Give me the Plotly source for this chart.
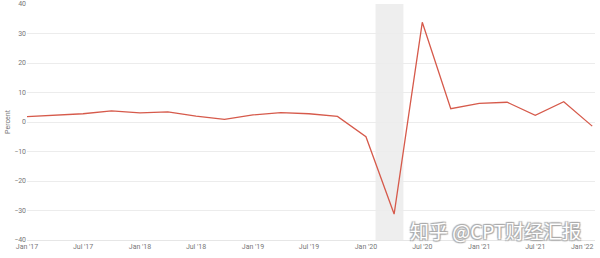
import plotly.graph_objects as go

dates = ["2017-01-01", "2017-04-01", "2017-07-01", "2017-10-01",
         "2018-01-01", "2018-04-01", "2018-07-01", "2018-10-01",
         "2019-01-01", "2019-04-01", "2019-07-01", "2019-10-01",
         "2020-01-01", "2020-04-01", "2020-07-01", "2020-10-01",
         "2021-01-01", "2021-04-01", "2021-07-01", "2021-10-01",
         "2022-01-01"]
gdp_growth = [1.8, 2.2, 2.8, 3.8,
              3.1, 3.4, 2.0, 0.9,
              2.4, 3.2, 2.8, 1.9,
              -5.0, -31.2, 33.8, 4.5,
              6.3, 6.7, 2.3, 6.9,
              -1.4]
recession = ["2020-02-01", "2020-05-01"]
y_ticks = [-40, -30, -20, -10, 0, 10, 20, 30, 40]
x_tick_vals = ["2017-01-01", "2017-07-01", "2018-01-01", "2018-07-01", "2019-01-01",
               "2019-07-01", "2020-01-01", "2020-07-01", "2021-01-01", "2021-07-01",
               "2022-01-01"]
x_tick_text = ["Jan '17", "Jul '17", "Jan '18", "Jul '18", "Jan '19", "Jul '19",
               "Jan '20", "Jul '20", "Jan '21", "Jul '21", "Jan '22"]

# last label is drawn as an annotation so it can be shifted inside the page
tick_text_axis = x_tick_text[:-1] + [""]

fig = go.Figure()
fig.add_vrect(x0=recession[0], x1=recession[1], fillcolor="#eeeeee",
              line_width=0, layer="below")
fig.add_trace(go.Scatter(x=dates, y=gdp_growth, mode="lines",
                         line=dict(color="#d65a4b", width=1.3),
                         hoverinfo="x+y"))

fig.update_layout(
    width=600, height=258,
    margin=dict(l=27, r=5, t=4, b=18),
    paper_bgcolor="white", plot_bgcolor="white",
    showlegend=False,
    font=dict(family="Roboto, sans-serif", size=7, color="#777777"),
    annotations=[
        dict(text="知乎 @CPT财经汇报", xref="paper", yref="paper",
             x=0.978, y=0.0, xanchor="right", yanchor="bottom", showarrow=False,
             yshift=-6,
             font=dict(family="Noto Sans CJK SC", size=19, color="white",
                       shadow="1px 1px 1px #aaa, -1px -1px 1px #aaa, 1px -1px 1px #aaa, -1px 1px 1px #aaa")),
        dict(text=x_tick_text[-1], xref="x", yref="paper",
             x=x_tick_vals[-1], y=0.0, xanchor="right", yanchor="middle",
             showarrow=False, xshift=2, yshift=-7, borderpad=0,
             font=dict(size=7, color="#777777")),
    ],
)
fig.update_xaxes(
    range=["2017-01-01", "2022-01-10"],
    tickvals=x_tick_vals, ticktext=tick_text_axis,
    showgrid=False, showline=True, linecolor="#e6e6e6", linewidth=1,
    ticks="", automargin=False,
    tickfont=dict(size=7, color="#777777"),
)
fig.update_yaxes(
    range=[-40, 40], tickvals=y_ticks,
    showgrid=True, gridcolor="#ececec", gridwidth=1,
    zeroline=False, ticks="", automargin=False,
    tickfont=dict(size=7, color="#777777"),
    title=dict(text="Percent", font=dict(size=7, color="#777777"), standoff=2),
)

fig.write_html("out.html")
